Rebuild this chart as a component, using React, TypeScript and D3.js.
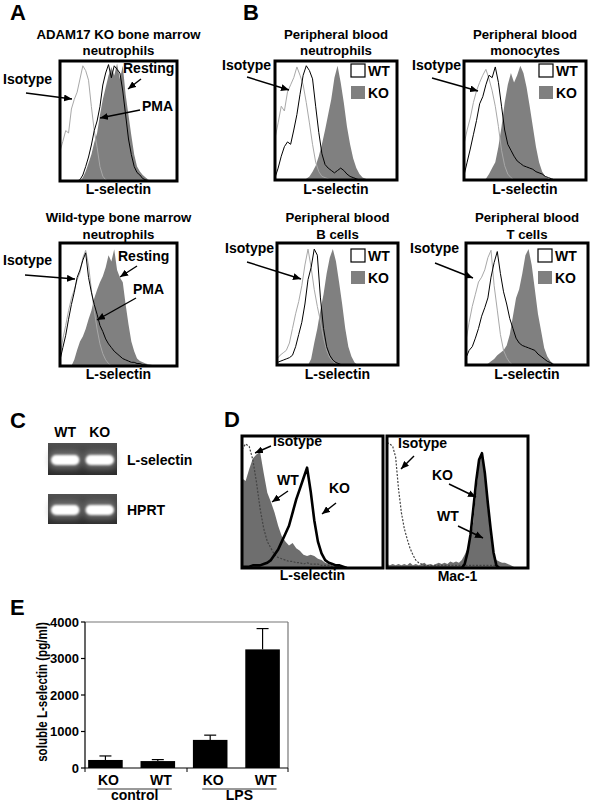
import React from "react";
import * as d3 from "d3";

// ---------------- DATA ----------------
// Panel A: bone marrow neutrophils (42 bins, fraction of box height)
const aKoIsotype = [0.25,0.33,0.42,0.4,0.6,0.68,0.74,0.85,0.96,0.92,0.84,0.62,0.42,0.28,0.12,0.04,0.01,0];
const aKoPma = [0,0,0,0,0,0,0,0.01,0.05,0.12,0.2,0.3,0.42,0.5,0.62,0.8,0.9,0.97,0.86,0.96,0.93,0.9,0.75,0.55,0.35,0.22,0.12,0.07,0.05,0.02,0.01,0];
const aKoResting = [0,0,0,0,0,0,0,0,0.03,0.08,0.15,0.22,0.32,0.4,0.55,0.68,0.78,0.88,0.95,0.88,0.98,0.85,0.96,0.72,0.55,0.38,0.22,0.12,0.08,0.05,0.03,0.01,0];
const aWtIsotype = [0.08,0.22,0.33,0.45,0.55,0.62,0.7,0.76,0.88,0.94,0.82,0.62,0.45,0.3,0.18,0.1,0.05,0.02,0];
const aWtPma = [0.05,0.15,0.25,0.38,0.5,0.6,0.72,0.78,0.86,0.92,0.72,0.6,0.5,0.42,0.33,0.28,0.22,0.18,0.15,0.12,0.1,0.08,0.06,0.05,0.04,0.03,0.03,0.02,0.02,0.01,0.01,0];
const aWtResting = [0,0,0,0,0,0.05,0.13,0.2,0.24,0.3,0.38,0.45,0.55,0.62,0.68,0.73,0.8,0.9,0.85,0.95,0.78,0.72,0.68,0.5,0.34,0.2,0.12,0.06,0.04,0.03,0.02,0.015,0.01,0];

// Panel B: peripheral blood (40 bins)
const bNeuIsotype = [0.35,0.48,0.62,0.58,0.74,0.8,0.86,0.95,0.88,0.8,0.65,0.48,0.3,0.15,0.07,0.03,0.02,0.01,0];
const bNeuWt = [0.02,0.1,0.2,0.28,0.32,0.3,0.42,0.55,0.72,0.88,0.96,0.92,0.85,0.62,0.4,0.22,0.13,0.1,0.08,0.06,0.08,0.1,0.08,0.05,0.03,0.02,0.01,0];
const bNeuKo = [0,0,0,0,0,0,0,0,0,0,0.01,0.03,0.07,0.12,0.2,0.3,0.42,0.55,0.68,0.86,0.96,0.82,0.65,0.45,0.3,0.18,0.1,0.05,0.02,0.01,0];
const monoIsotype = [0.3,0.42,0.52,0.65,0.75,0.82,0.88,0.93,0.85,0.75,0.62,0.45,0.25,0.12,0.05,0.02,0];
const monoWt = [0.04,0.15,0.26,0.38,0.5,0.64,0.7,0.8,0.88,0.86,0.95,0.82,0.62,0.42,0.3,0.25,0.2,0.16,0.14,0.12,0.11,0.1,0.09,0.07,0.06,0.05,0.03,0.02,0.01,0];
const monoKo = [0,0,0,0,0,0,0,0.01,0.05,0.1,0.15,0.28,0.45,0.65,0.8,0.9,0.82,0.88,0.96,0.9,0.78,0.62,0.45,0.28,0.15,0.07,0.03,0.01,0];
const bcellIsotype = [0.05,0.08,0.1,0.12,0.18,0.3,0.42,0.52,0.65,0.82,0.95,0.8,0.62,0.48,0.36,0.22,0.12,0.06,0.03,0.01,0];
const bcellWt = [0.02,0.03,0.04,0.05,0.06,0.08,0.15,0.25,0.35,0.5,0.7,0.8,0.95,0.9,0.55,0.3,0.15,0.08,0.04,0.02,0.01,0];
const bcellKo = [0,0,0,0,0,0,0,0,0,0,0,0.05,0.18,0.3,0.45,0.58,0.75,0.88,0.95,0.85,0.68,0.5,0.3,0.15,0.07,0.02,0];
const tcellIsotype = [0.2,0.35,0.48,0.58,0.68,0.72,0.78,0.88,0.94,0.65,0.45,0.25,0.12,0.06,0.02,0];
const tcellWt = [0.06,0.12,0.15,0.22,0.3,0.4,0.47,0.55,0.72,0.84,0.93,0.75,0.6,0.5,0.38,0.3,0.22,0.18,0.16,0.15,0.14,0.13,0.12,0.09,0.07,0.05,0.03,0.02,0];
const tcellKo = [0,0,0,0,0,0,0,0.01,0.03,0.05,0.08,0.1,0.12,0.16,0.25,0.4,0.55,0.62,0.75,0.9,0.95,0.82,0.62,0.42,0.28,0.14,0.07,0.03,0.01,0];

// Panel C: RT-PCR gel
const gelLanes = ["WT", "KO"];
const gelGenes = ["L-selectin", "HPRT"];
const gelBandIntensity = [[1, 1], [1, 1]];

// Panel D: L-selectin (40 bins) and Mac-1 (50 bins)
const dSelIsotype = [0.9,0.94,0.92,0.82,0.65,0.45,0.3,0.2,0.15,0.1,0.08,0.07,0.06,0.05,0.05,0.04,0.04,0.03,0.04,0.03,0.03,0.03,0.02,0.02,0.02,0.01,0.01,0.01,0];
const dSelWt = [0.68,0.66,0.75,0.83,0.86,0.88,0.72,0.57,0.5,0.42,0.32,0.24,0.2,0.17,0.19,0.15,0.13,0.1,0.09,0.1,0.09,0.07,0.06,0.04,0.03,0.02,0.02,0.01,0.01,0];
const dSelKo = [0.01,0.01,0.01,0.02,0.02,0.02,0.03,0.04,0.06,0.1,0.14,0.2,0.26,0.32,0.42,0.52,0.6,0.68,0.76,0.58,0.36,0.2,0.11,0.06,0.04,0.03,0.02,0.02,0.01,0];
const dMacIsotype = [0.95,0.94,0.92,0.84,0.6,0.42,0.3,0.22,0.15,0.1,0.06,0.04,0.03,0.02,0.02,0.02,0.02,0.02,0.02,0.02,0.02,0.02,0.02,0.02,0.02,0.02,0.02,0.02,0.02,0.02,0.02,0.02,0.02,0.02,0.02,0.02,0.02,0.02,0.02,0];
const dMacWt = [0.03,0.02,0.03,0.02,0.03,0.02,0.03,0.02,0.04,0.02,0.03,0.02,0.03,0.04,0.02,0.03,0.02,0.03,0.04,0.03,0.04,0.03,0.05,0.04,0.05,0.04,0.06,0.1,0.15,0.22,0.35,0.58,0.8,0.86,0.68,0.45,0.25,0.1,0.06,0.05,0.04,0.04,0.03,0.02,0.01,0];
const dMacKo = [0,0,0,0,0,0,0,0,0,0,0,0,0,0,0,0,0,0,0,0,0,0,0,0,0,0,0,0.03,0.12,0.25,0.45,0.66,0.82,0.87,0.72,0.5,0.3,0.12,0.02,0];

// Panel E: soluble L-selectin (pg/ml)
const eGroups = ["control", "control", "LPS", "LPS"];
const eGenotypes = ["KO", "WT", "KO", "WT"];
const eMeans = [220, 190, 770, 3250];
const eErrors = [110, 40, 130, 570];
const eTicks = [0, 1000, 2000, 3000, 4000];

// ---------------- STYLE ----------------
const FONT = "'Liberation Sans', Arial, Helvetica, sans-serif";
const FILL_GRAY = "#808080";
const ISO_GRAY = "#a8a8a8";

type Box = { x0: number; x1: number; y0: number; y1: number };
type Series = { values: number[]; kind: "fill" | "line"; color: string; width?: number; dash?: string };

function T(props: { x: number; y: number; children: React.ReactNode; size?: number; anchor?: string; weight?: string }) {
  return (
    <text x={props.x} y={props.y} fontFamily={FONT} fontWeight={props.weight ?? "bold"} fontSize={props.size ?? 14}
      textAnchor={props.anchor ?? "start"} fill="#000">{props.children}</text>
  );
}

function Arrow({ from, to }: { from: [number, number]; to: [number, number] }) {
  return <line x1={from[0]} y1={from[1]} x2={to[0]} y2={to[1]} stroke="#000" strokeWidth={1.4} markerEnd="url(#ah)" />;
}

function FlowBox({ id, box, bins, series }: { id: string; box: Box; bins: number; series: Series[] }) {
  const x = d3.scaleLinear().domain([0, bins - 1]).range([box.x0, box.x1]);
  const y = d3.scaleLinear().domain([0, 1]).range([box.y1, box.y0]);
  const line = d3.line<number>().x((_, i) => x(i)).y((v) => y(v));
  const area = d3.area<number>().x((_, i) => x(i)).y0(y(0)).y1((v) => y(v));
  return (
    <g>
      <defs>
        <clipPath id={id}>
          <rect x={box.x0} y={box.y0} width={box.x1 - box.x0} height={box.y1 - box.y0} />
        </clipPath>
      </defs>
      <g clipPath={`url(#${id})`}>
        {series.map((s, k) =>
          s.kind === "fill" ? (
            <path key={k} d={area(s.values) ?? ""} fill={s.color} />
          ) : (
            <path key={k} d={line(s.values) ?? ""} fill="none" stroke={s.color} strokeWidth={s.width ?? 1}
              strokeDasharray={s.dash} strokeLinejoin="round" />
          )
        )}
      </g>
      <rect x={box.x0} y={box.y0} width={box.x1 - box.x0} height={box.y1 - box.y0} fill="none" stroke="#000" strokeWidth={3} />
    </g>
  );
}

function Legend({ x, y }: { x: number; y: number }) {
  return (
    <g>
      <rect x={x} y={y} width={14} height={13} fill="#fff" stroke="#000" strokeWidth={1.2} />
      <T x={x + 17} y={y + 12}>WT</T>
      <rect x={x} y={y + 22} width={14} height={13} fill={FILL_GRAY} />
      <T x={x + 17} y={y + 34}>KO</T>
    </g>
  );
}

function Titles({ cx, lines, ys }: { cx: number; lines: string[]; ys: number[] }) {
  return <g>{lines.map((l, i) => <T key={i} x={cx} y={ys[i]} anchor="middle" size={13.2}>{l}</T>)}</g>;
}

function bSeries(iso: number[], wt: number[], ko: number[]): Series[] {
  return [
    { values: ko, kind: "fill", color: FILL_GRAY },
    { values: iso, kind: "line", color: ISO_GRAY, width: 1 },
    { values: wt, kind: "line", color: "#000", width: 1 },
  ];
}

function GelPanel() {
  const lane = d3.scaleBand().domain(gelLanes).range([48, 117]).paddingInner(0.12).paddingOuter(0.06);
  const rows = [{ y0: 443, y1: 475 }, { y0: 494, y1: 524 }];
  return (
    <g>
      <T x={10} y={428} size={22}>C</T>
      {gelLanes.map((l) => (
        <T key={l} x={(lane(l) ?? 0) + lane.bandwidth() / 2} y={437} anchor="middle">{l}</T>
      ))}
      {gelGenes.map((g, r) => {
        const row = rows[r];
        const cy = (row.y0 + row.y1) / 2 + 1;
        return (
          <g key={g}>
            <rect x={48} y={row.y0} width={69} height={row.y1 - row.y0} fill="url(#gelbg)" />
            {gelLanes.map((l, j) => {
              const bx = lane(l) ?? 0;
              const a = gelBandIntensity[r][j];
              return (
                <g key={l}>
                  <rect x={bx - 1} y={cy - 9} width={lane.bandwidth() + 2} height={18} rx={6} fill="#9a9a9a" opacity={0.55 * a} filter="url(#blur3)" />
                  <rect x={bx + 1} y={cy - 5} width={lane.bandwidth() - 2} height={10} rx={5} fill="#fff" opacity={a} filter="url(#blur1)" />
                </g>
              );
            })}
            <T x={127} y={cy + 5}>{g}</T>
          </g>
        );
      })}
    </g>
  );
}

function BarPanel() {
  const keys = eGenotypes.map((g, i) => `${g}-${eGroups[i]}`);
  const x = d3.scaleBand().domain(keys).range([85, 283]).paddingInner(0.34).paddingOuter(0.06);
  const y = d3.scaleLinear().domain([0, 4000]).range([768, 622]);
  const bw = x.bandwidth();
  const groups = Array.from(new Set(eGroups));
  return (
    <g>
      <T x={10} y={615} size={22}>E</T>
      <line x1={85} y1={y(4000)} x2={288} y2={y(4000)} stroke="#777" strokeWidth={1.2} />
      <line x1={288} y1={y(4000)} x2={288} y2={y(0)} stroke="#777" strokeWidth={1.2} />
      {keys.map((k, i) => {
        const cx = (x(k) ?? 0) + bw / 2;
        const top = y(eMeans[i] + eErrors[i]);
        return (
          <g key={k}>
            <line x1={cx} y1={y(eMeans[i])} x2={cx} y2={top} stroke="#000" strokeWidth={1.2} />
            <line x1={cx - 6} y1={top} x2={cx + 6} y2={top} stroke="#000" strokeWidth={1.2} />
            <rect x={x(k)} y={y(eMeans[i])} width={bw} height={y(0) - y(eMeans[i])} fill="#000" />
            <T x={cx + 3} y={785} anchor="middle">{eGenotypes[i]}</T>
          </g>
        );
      })}
      <line x1={85} y1={y(0)} x2={288} y2={y(0)} stroke="#000" strokeWidth={1.2} />
      <line x1={85} y1={y(0)} x2={85} y2={y(4000)} stroke="#000" strokeWidth={1.2} />
      {[85, 187, 288].map((tx) => <line key={tx} x1={tx} y1={y(0)} x2={tx} y2={y(0) + 4} stroke="#000" strokeWidth={1} />)}
      {eTicks.map((t) => (
        <g key={t}>
          <line x1={81} y1={y(t)} x2={85} y2={y(t)} stroke="#000" strokeWidth={1.2} />
          <T x={79} y={y(t) + 4.5} anchor="end" size={13}>{t}</T>
        </g>
      ))}
      {groups.map((g) => {
        const idx = eGroups.map((gg, i) => (gg === g ? i : -1)).filter((i) => i >= 0);
        const c0 = (x(keys[idx[0]]) ?? 0) + bw / 2;
        const c1 = (x(keys[idx[idx.length - 1]]) ?? 0) + bw / 2;
        return (
          <g key={g}>
            <line x1={c0 - 8} y1={789} x2={c1 + 14} y2={789} stroke="#999" strokeWidth={2} />
            <T x={(c0 + c1) / 2 + 3} y={800} anchor="middle">{g}</T>
          </g>
        );
      })}
      <g transform="translate(47,692) scale(1.2,1) rotate(-90)">
        <T x={0} y={0} anchor="middle" size={11.6}>soluble L-selectin (pg/ml)</T>
      </g>
    </g>
  );
}

export default function App() {
  const aTop: Box = { x0: 60, x1: 177, y0: 61, y1: 181 };
  const aBot: Box = { x0: 60, x1: 177, y0: 243, y1: 366 };
  const bNeu: Box = { x0: 275, x1: 397, y0: 61, y1: 180 };
  const bMono: Box = { x0: 464, x1: 586, y0: 61, y1: 180 };
  const bB: Box = { x0: 277, x1: 398, y0: 243, y1: 365 };
  const bT: Box = { x0: 466, x1: 588, y0: 243, y1: 365 };
  const dL: Box = { x0: 242, x1: 383, y0: 436, y1: 568 };
  const dR: Box = { x0: 387, x1: 528, y0: 436, y1: 568 };
  const mid = (b: Box) => (b.x0 + b.x1) / 2;

  return (
    <svg width={590} height={803} viewBox="0 0 590 803" style={{ position: "absolute", left: 0, top: 0, background: "#fff" }}>
      <defs>
        <marker id="ah" viewBox="0 0 8 7" refX={8} refY={3.5} markerWidth={8} markerHeight={7} markerUnits="userSpaceOnUse" orient="auto">
          <path d="M0,0 L8,3.5 L0,7 z" fill="#000" />
        </marker>
        <linearGradient id="gelbg" x1="0" y1="0" x2="0" y2="1">
          <stop offset="0" stopColor="#505050" />
          <stop offset="0.5" stopColor="#383838" />
          <stop offset="1" stopColor="#2c2c2c" />
        </linearGradient>
        <filter id="blur1" x="-20%" y="-50%" width="140%" height="200%"><feGaussianBlur stdDeviation={1.3} /></filter>
        <filter id="blur3" x="-30%" y="-60%" width="160%" height="220%"><feGaussianBlur stdDeviation={3} /></filter>
      </defs>
      <rect x={0} y={0} width={590} height={803} fill="#fff" />

      {/* Panel A */}
      <T x={10} y={20} size={22}>A</T>
      <Titles cx={mid(aTop)} lines={["ADAM17 KO bone marrow", "neutrophils"]} ys={[39, 55]} />
      <FlowBox id="cA1" box={aTop} bins={42} series={[
        { values: aKoResting, kind: "fill", color: FILL_GRAY },
        { values: aKoIsotype, kind: "line", color: ISO_GRAY },
        { values: aKoPma, kind: "line", color: "#000" },
      ]} />
      <T x={mid(aTop)} y={194} anchor="middle">L-selectin</T>
      <T x={3} y={84}>Isotype</T>
      <Arrow from={[26, 93]} to={[72, 99]} />
      <T x={123} y={73}>Resting</T>
      <Arrow from={[141, 79]} to={[128, 89]} />
      <T x={142} y={111}>PMA</T>
      <Arrow from={[140, 110]} to={[100, 118]} />

      <Titles cx={mid(aBot)} lines={["Wild-type bone marrow", "neutrophils"]} ys={[222, 239]} />
      <FlowBox id="cA2" box={aBot} bins={42} series={[
        { values: aWtResting, kind: "fill", color: FILL_GRAY },
        { values: aWtIsotype, kind: "line", color: ISO_GRAY },
        { values: aWtPma, kind: "line", color: "#000" },
      ]} />
      <T x={mid(aBot)} y={379} anchor="middle">L-selectin</T>
      <T x={3} y={265}>Isotype</T>
      <Arrow from={[25, 275]} to={[75, 279]} />
      <T x={118} y={261}>Resting</T>
      <Arrow from={[137, 266]} to={[120, 277]} />
      <T x={133} y={294}>PMA</T>
      <Arrow from={[136, 298]} to={[97, 320]} />

      {/* Panel B */}
      <T x={243} y={20} size={22}>B</T>
      <Titles cx={mid(bNeu)} lines={["Peripheral blood", "neutrophils"]} ys={[39, 55]} />
      <FlowBox id="cB1" box={bNeu} bins={40} series={bSeries(bNeuIsotype, bNeuWt, bNeuKo)} />
      <Legend x={bNeu.x1 - 46} y={64} />
      <T x={mid(bNeu)} y={194} anchor="middle">L-selectin</T>
      <T x={222} y={70}>Isotype</T>
      <Arrow from={[247, 77]} to={[289, 90]} />

      <Titles cx={mid(bMono)} lines={["Peripheral blood", "monocytes"]} ys={[39, 55]} />
      <FlowBox id="cB2" box={bMono} bins={40} series={bSeries(monoIsotype, monoWt, monoKo)} />
      <Legend x={bMono.x1 - 47} y={64} />
      <T x={mid(bMono)} y={194} anchor="middle">L-selectin</T>
      <T x={412} y={70}>Isotype</T>
      <Arrow from={[432, 78]} to={[478, 91]} />

      <Titles cx={mid(bB)} lines={["Peripheral blood", "B cells"]} ys={[222, 239]} />
      <FlowBox id="cB3" box={bB} bins={40} series={bSeries(bcellIsotype, bcellWt, bcellKo)} />
      <Legend x={bB.x1 - 47} y={249} />
      <T x={mid(bB)} y={379} anchor="middle">L-selectin</T>
      <T x={225} y={253}>Isotype</T>
      <Arrow from={[247, 262]} to={[301, 279]} />

      <Titles cx={mid(bT)} lines={["Peripheral blood", "T cells"]} ys={[222, 239]} />
      <FlowBox id="cB4" box={bT} bins={40} series={bSeries(tcellIsotype, tcellWt, tcellKo)} />
      <Legend x={bT.x1 - 50} y={249} />
      <T x={mid(bT)} y={379} anchor="middle">L-selectin</T>
      <T x={410} y={253}>Isotype</T>
      <Arrow from={[435, 263]} to={[473, 278]} />

      {/* Panel C */}
      <GelPanel />

      {/* Panel D */}
      <T x={224} y={427} size={22}>D</T>
      <FlowBox id="cD1" box={dL} bins={40} series={[
        { values: dSelWt, kind: "fill", color: "#6e6e6e" },
        { values: dSelIsotype, kind: "line", color: "#444", width: 1.2, dash: "2,1.5" },
        { values: dSelKo, kind: "line", color: "#000", width: 2.6 },
      ]} />
      <T x={mid(dL)} y={580} anchor="middle">L-selectin</T>
      <T x={273} y={446}>Isotype</T>
      <Arrow from={[271, 446]} to={[255, 453]} />
      <T x={277} y={485}>WT</T>
      <Arrow from={[288, 491]} to={[272, 502]} />
      <T x={329} y={493}>KO</T>
      <Arrow from={[336, 503]} to={[322, 514]} />

      <FlowBox id="cD2" box={dR} bins={50} series={[
        { values: dMacWt, kind: "fill", color: "#6e6e6e" },
        { values: dMacIsotype, kind: "line", color: "#444", width: 1.2, dash: "2,1.5" },
        { values: dMacKo, kind: "line", color: "#000", width: 2.6 },
      ]} />
      <T x={mid(dR)} y={581} anchor="middle">Mac-1</T>
      <T x={398} y={448}>Isotype</T>
      <Arrow from={[414, 456]} to={[401, 469]} />
      <T x={432} y={480}>KO</T>
      <Arrow from={[449, 484]} to={[476, 497]} />
      <T x={437} y={521}>WT</T>
      <Arrow from={[458, 526]} to={[483, 538]} />

      {/* Panel E */}
      <BarPanel />
    </svg>
  );
}
